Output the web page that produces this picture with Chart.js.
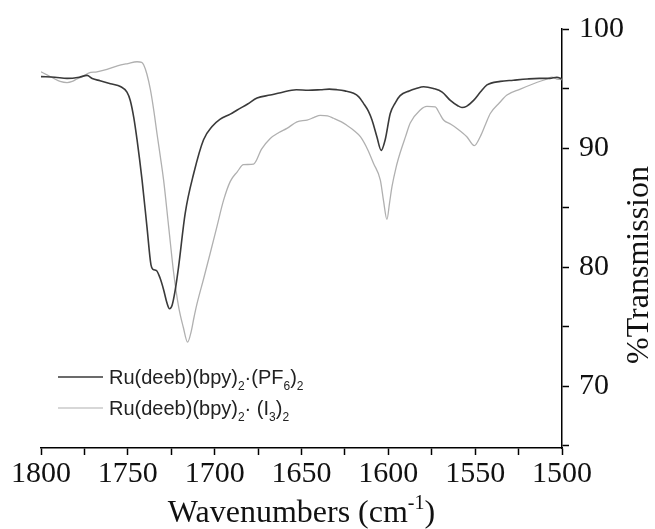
<!DOCTYPE html>
<html>
<head>
<meta charset="utf-8">
<script src="https://cdn.jsdelivr.net/npm/chart.js@4"></script>
<style>
  body { margin: 0; background: #fff; }
  #wrap { width: 655px; height: 529px; position: relative; }
</style>
</head>
<body>
<div id="wrap"><canvas id="irChart"></canvas></div>
<script>
// Ru(deeb)(bpy)2·(PF6)2 spectrum (dark line)
var wnPF6 = [1800, 1792, 1785, 1778, 1773.5, 1770.5, 1766, 1760, 1754, 1750.5,
  1748.6, 1746.5, 1744.7, 1741.8, 1739, 1736.7, 1735.5, 1733.5, 1731.5, 1729.4,
  1727.5, 1726, 1724.5, 1722.8, 1720.8, 1717, 1712, 1706.4, 1701.5, 1697,
  1691, 1687, 1681, 1675.6, 1668, 1662, 1653, 1646, 1639, 1634,
  1629.6, 1625, 1620, 1617, 1614.3, 1611.5, 1609.4, 1606.6, 1604.1, 1601.8,
  1598.9, 1596, 1593.2, 1588, 1584, 1579.7, 1574, 1569, 1564.3, 1560,
  1557.6, 1555, 1550.9, 1547, 1543.2, 1535.5, 1528, 1520, 1513, 1507,
  1503, 1500]
var tPF6 = [96.0, 95.95, 95.85, 95.95, 96.1, 95.85, 95.65, 95.4, 95.15, 94.7,
  94.0, 92.5, 90.7, 87.3, 83.4, 80.2, 79.8, 79.7, 79.1, 78.1,
  77.0, 76.5, 76.8, 78.0, 80.0, 84.5, 87.9, 90.7, 91.8, 92.4,
  92.85, 93.2, 93.7, 94.2, 94.45, 94.65, 94.9, 94.85, 94.9, 94.95,
  94.9, 94.8, 94.6, 94.3, 93.75, 93.1, 92.35, 90.95, 89.8, 90.7,
  92.9, 93.8, 94.4, 94.8, 95.0, 95.15, 95.0, 94.7, 94.0, 93.55,
  93.4, 93.5, 94.0, 94.7, 95.3, 95.6, 95.7, 95.8, 95.85, 95.85,
  95.95, 95.8]

// Ru(deeb)(bpy)2·(I3)2 spectrum (light line)
var wnI3 = [1800, 1796, 1792.7, 1789, 1785, 1782, 1779.3, 1775, 1772.6, 1767.8,
  1762, 1756, 1750, 1744.7, 1742, 1740.9, 1739, 1737, 1735, 1733.2,
  1731.3, 1729.4, 1726.5, 1723.6, 1720.8, 1718, 1715.6, 1713.5, 1712, 1710.2,
  1706.4, 1702.5, 1698.7, 1694.9, 1691, 1687, 1683.4, 1677.6, 1673, 1668,
  1663, 1658.4, 1652.6, 1646.8, 1643, 1639.2, 1635, 1631.5, 1627, 1623.8,
  1620, 1616.1, 1612, 1608.5, 1604.6, 1602.8, 1600.8, 1599.3, 1597.9, 1595.5,
  1593.2, 1590, 1587.4, 1581.6, 1577.8, 1573, 1570.5, 1568.2, 1564, 1560.5,
  1554.8, 1550.5, 1547.1, 1544, 1541.3, 1536, 1531.7, 1524, 1516.4, 1508.7,
  1505.8, 1503, 1500]
var tI3 = [96.4, 96.1, 95.85, 95.6, 95.5, 95.6, 95.8, 96.1, 96.3, 96.4,
  96.6, 96.9, 97.1, 97.25, 97.2, 97.0, 96.2, 94.9, 93.1, 91.2,
  89.3, 87.3, 83.4, 79.5, 76.7, 74.9, 73.7, 74.6, 75.7, 76.9,
  79.0, 81.2, 83.4, 85.6, 87.2, 88.0, 88.6, 88.65, 89.9, 90.8,
  91.3, 91.65, 92.2, 92.35, 92.55, 92.75, 92.7, 92.5, 92.2, 91.9,
  91.5, 90.95, 89.9, 88.7, 87.3, 85.6, 84.0, 85.4, 86.75, 88.4,
  89.6, 91.0, 92.1, 93.2, 93.5, 93.45, 92.9, 92.35, 92.0, 91.65,
  90.95, 90.2, 90.95, 92.0, 92.9, 93.8, 94.45, 94.95, 95.4, 95.8,
  95.95, 95.8, 95.75]

var xTickLabels = [1800, 1750, 1700, 1650, 1600, 1550, 1500]
var yTickLabels = [70, 80, 90, 100]

var darkColor = '#3a3a3a'
var lightColor = '#b0b0b0'
var serif = "'Liberation Serif', 'Times New Roman', serif"
var sans = "'Liberation Sans', Arial, sans-serif"

function toPoints(xs, ys) {
  return xs.map(function (x, i) { return { x: x, y: ys[i] } })
}

// draw a run of text with sub / superscript pieces, returns the width
function drawRich(ctx, parts, x, y, size, family, measureOnly) {
  var start = x
  parts.forEach(function (p) {
    var small = p[1] !== 'n'
    ctx.font = (small ? Math.round(size * 0.62) : size) + 'px ' + family
    var dy = p[1] === 'sub' ? size * 0.28 : (p[1] === 'sup' ? -size * 0.42 : 0)
    if (!measureOnly) ctx.fillText(p[0], x, y + dy)
    x += ctx.measureText(p[0]).width
  })
  return x - start
}

// axis titles and legend, drawn by hand so sub/superscripts work
var extrasPlugin = {
  id: 'extras',
  afterDraw: function (chart) {
    var ctx = chart.ctx
    var area = chart.chartArea
    ctx.save()
    ctx.fillStyle = '#111'
    ctx.textBaseline = 'alphabetic'
    ctx.textAlign = 'left'

    // x title
    var xTitle = [['Wavenumbers (cm', 'n'], ['-1', 'sup'], [')', 'n']]
    var w = drawRich(ctx, xTitle, 0, 0, 32, serif, true)
    drawRich(ctx, xTitle, (area.left + area.right) / 2 - w / 2, 522, 32, serif)

    // y title
    ctx.save()
    ctx.translate(640, 265)
    ctx.rotate(-Math.PI / 2)
    ctx.font = '32px ' + serif
    ctx.textAlign = 'center'
    ctx.textBaseline = 'middle'
    ctx.fillText('%Transmission', 0, 0)
    ctx.restore()

    // legend
    var entries = [
      { color: darkColor, width: 1.5, y: 377,
        parts: [['Ru(deeb)(bpy)', 'n'], ['2', 'sub'], ['\u00b7(PF', 'n'], ['6', 'sub'], [')', 'n'], ['2', 'sub']] },
      { color: lightColor, width: 1.2, y: 408,
        parts: [['Ru(deeb)(bpy)', 'n'], ['2', 'sub'], ['\u00b7 (I', 'n'], ['3', 'sub'], [')', 'n'], ['2', 'sub']] }
    ]
    entries.forEach(function (e) {
      ctx.strokeStyle = e.color
      ctx.lineWidth = e.width
      ctx.beginPath()
      ctx.moveTo(58, e.y)
      ctx.lineTo(103, e.y)
      ctx.stroke()
      ctx.fillStyle = '#222'
      drawRich(ctx, e.parts, 109, e.y + 7, 20, sans)
    })
    ctx.restore()
  }
}

var ctx = document.getElementById('irChart').getContext('2d')
var chart = new Chart(ctx, {
  type: 'line',
  data: {
    datasets: [
      {
        label: 'Ru(deeb)(bpy)2·(PF6)2',
        data: toPoints(wnPF6, tPF6),
        borderColor: darkColor,
        borderWidth: 1.6,
        pointRadius: 0,
        cubicInterpolationMode: 'monotone',
        fill: false
      },
      {
        label: 'Ru(deeb)(bpy)2· (I3)2',
        data: toPoints(wnI3, tI3),
        borderColor: lightColor,
        borderWidth: 1.3,
        pointRadius: 0,
        cubicInterpolationMode: 'monotone',
        fill: false
      }
    ]
  },
  options: {
    responsive: true,
    maintainAspectRatio: false,
    animation: false,
    layout: { padding: { left: 41, top: 29, right: 0, bottom: 0 } },
    plugins: {
      legend: { display: false },
      tooltip: { enabled: false }
    },
    scales: {
      x: {
        type: 'linear',
        reverse: true,
        min: 1500,
        max: 1800,
        border: { display: true, color: '#000', width: 1.5 },
        grid: { drawOnChartArea: false, drawTicks: true, tickLength: 7, color: '#000', tickWidth: 1.5 },
        ticks: {
          stepSize: 25,
          autoSkip: false,
          maxRotation: 0,
          padding: 1,
          color: '#111',
          font: { family: serif, size: 30 },
          callback: function (v) { return xTickLabels.indexOf(v) >= 0 ? v : '' }
        },
        afterFit: function (scale) { scale.height = 81 }
      },
      y: {
        position: 'right',
        min: 64.8,
        max: 100,
        border: { display: true, color: '#000', width: 1.5 },
        grid: { drawOnChartArea: false, drawTicks: true, tickLength: 7, color: '#000', tickWidth: 1.5 },
        ticks: {
          stepSize: 5,
          includeBounds: false,
          autoSkip: false,
          padding: 10,
          color: '#111',
          font: { family: serif, size: 30 },
          callback: function (v) { return yTickLabels.indexOf(v) >= 0 ? v : '' }
        },
        afterFit: function (scale) { scale.width = 93 }
      }
    }
  },
  plugins: [extrasPlugin]
})
</script>
</body>
</html>
